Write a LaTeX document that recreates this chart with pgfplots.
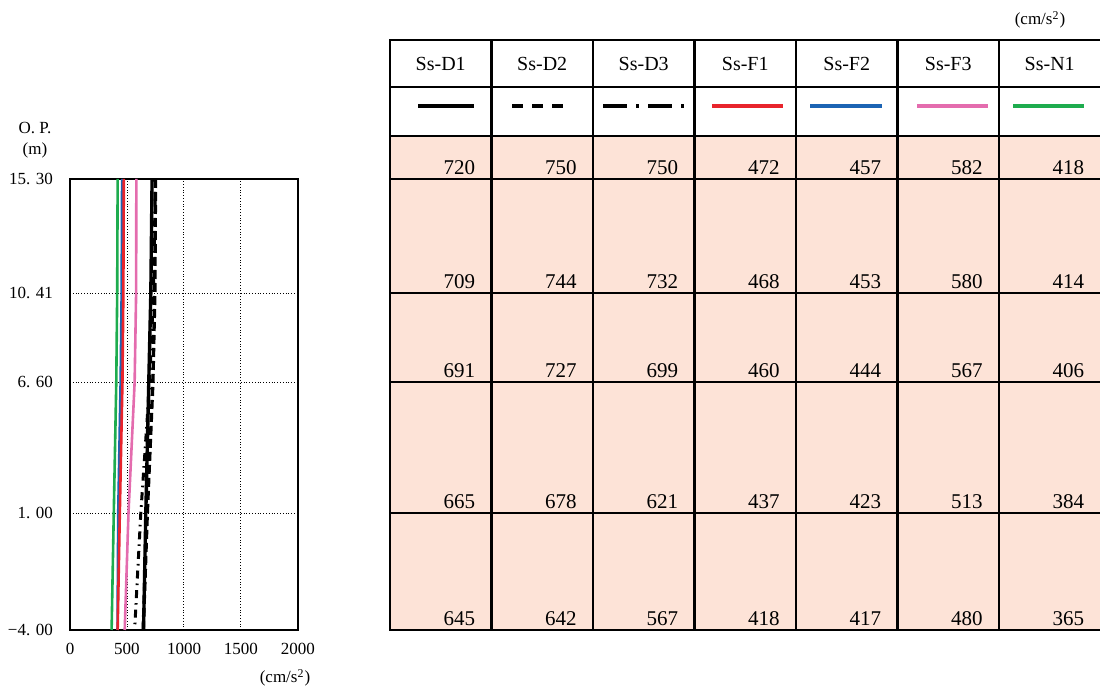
\documentclass[border=0pt]{standalone}
\usepackage{pgfplots}
\pgfplotsset{compat=1.18}
\usepackage{fontspec}
\setmainfont{Liberation Serif}
\definecolor{cRed}{RGB}{232,36,44}
\definecolor{cBlue}{RGB}{28,100,180}
\definecolor{cPink}{RGB}{228,108,174}
\definecolor{cGreen}{RGB}{30,172,78}
\definecolor{cFill}{RGB}{253,227,215}
\begin{document}
\begin{tikzpicture}[font=\fontsize{8.5}{10}\selectfont]
\path[use as bounding box] (0,0) rectangle (550pt,345.5pt);
\begin{axis}[
  at={(35pt,30.5pt)}, anchor=south west, scale only axis,
  width=114pt, height=225.5pt,
  xmin=0, xmax=2000, ymin=-4, ymax=15.3,
  xtick={0,500,1000,1500,2000}, xticklabels={0,500,1000,1500,2000},
  ytick={-4,1,6.6,10.41,15.3},
  yticklabels={−4. 00,1. 00,6. 60,10. 41,15. 30},
  grid=major, grid style={densely dotted, black, line width=0.5pt},
  major tick length=0pt,
  axis line style={line width=1.1pt},
  xticklabel style={yshift=-3pt},
  yticklabel style={xshift=-5pt},
  clip=false,
]
\addplot[cGreen, line width=1.3pt] coordinates {(418,15.3) (414,10.41) (406,6.6) (384,1) (365,-4)};
\addplot[cBlue, line width=1.3pt] coordinates {(457,15.3) (453,10.41) (444,6.6) (423,1) (417,-4)};
\addplot[cRed, line width=1.3pt] coordinates {(472,15.3) (468,10.41) (460,6.6) (437,1) (418,-4)};
\addplot[cPink, line width=1.3pt] coordinates {(582,15.3) (580,10.41) (567,6.6) (513,1) (480,-4)};
\addplot[black, line width=1.5pt, dash pattern=on 4pt off 2.5pt on 0.8pt off 2.5pt] coordinates {(750,15.3) (732,10.41) (699,6.6) (621,1) (567,-4)};
\addplot[black, line width=1.7pt, dash pattern=on 4.5pt off 2pt] coordinates {(750,15.3) (744,10.41) (727,6.6) (678,1) (642,-4)};
\addplot[black, line width=1.7pt] coordinates {(720,15.3) (709,10.41) (691,6.6) (665,1) (645,-4)};
\end{axis}
\begin{scope}[x=0.5pt,y=-0.5pt,shift={(0pt,345.5pt)}]
  % left labels
  \node at (35,128) {O. P.};
  \node at (35,150) {(m)};
  \node at (285,678) {(cm/s\textsuperscript{2})};
  \node at (1040,20) {(cm/s\textsuperscript{2})};
  % table
  \fill[cFill] (390,136) rectangle (1102,630);
  \foreach \y in {40,87,136,179,293,382,513,630}
    \draw[line width=1.3pt] (389,\y) -- (1102,\y);
  \foreach \x in {390,491.5,593,694.5,796,897.5,999}
    \draw[line width=1.3pt] (\x,40) -- (\x,630);
  \foreach \n [count=\i from 0] in {Ss-D1,Ss-D2,Ss-D3,Ss-F1,Ss-F2,Ss-F3,Ss-N1}
    \node[font=\fontsize{10}{12}\selectfont] at ({440.75+101.5*\i},64) {\n};
  % line samples
  \draw[black, line width=1.9pt] (418,106) -- (474,106);
  \draw[black, line width=1.9pt, dash pattern=on 5.5pt off 4.5pt] (512,106) -- (566,106);
  \draw[black, line width=1.9pt, dash pattern=on 12pt off 4.5pt on 1.5pt off 4.5pt] (603,106) -- (684,106);
  \draw[cRed, line width=1.9pt] (712,106) -- (783,106);
  \draw[cBlue, line width=1.9pt] (810,106) -- (882,106);
  \draw[cPink, line width=1.9pt] (917,106) -- (988,106);
  \draw[cGreen, line width=1.9pt] (1013,106) -- (1084,106);
  % values
  \def\putrow#1#2{%
    \foreach \v [count=\i from 0] in {#2}
      \node[font=\fontsize{10.5}{12}\selectfont, anchor=base east, inner sep=0pt] at ({475.5+101.5*\i},#1) {\v};}
  \putrow{175}{720,750,750,472,457,582,418}
  \putrow{289}{709,744,732,468,453,580,414}
  \putrow{378}{691,727,699,460,444,567,406}
  \putrow{509}{665,678,621,437,423,513,384}
  \putrow{626}{645,642,567,418,417,480,365}
\end{scope}
\end{tikzpicture}
\end{document}
